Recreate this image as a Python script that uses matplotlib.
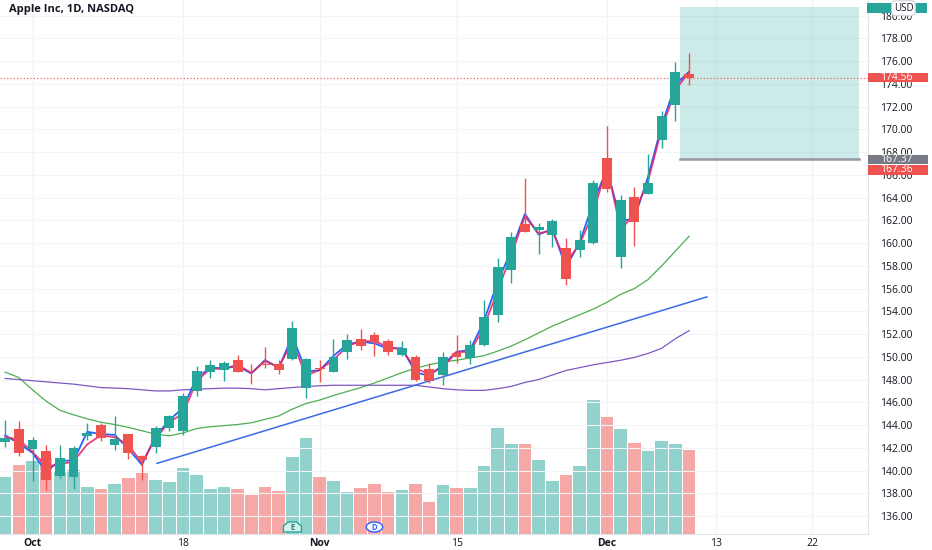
import numpy as np
import matplotlib.pyplot as plt
from matplotlib.patches import Rectangle, Polygon, Ellipse
from matplotlib.transforms import blended_transform_factory

plt.rcParams['font.family'] = ['Open Sans', 'DejaVu Sans']

# AAPL daily bars, 29 Sep 2021 .. 9 Dec 2021 (index = trading day)
opens = [142.47, 143.66, 141.90, 141.76, 139.49, 139.47, 143.06, 144.03, 142.27, 143.23,
         141.24, 142.11, 143.77, 143.45, 147.01, 148.70, 148.81, 149.69, 148.68, 149.33,
         149.36, 149.82, 147.22, 148.99, 148.66, 150.39, 151.58, 151.89, 151.41, 150.20,
         150.02, 148.96, 148.43, 150.37, 149.94, 151.00, 153.71, 157.65, 161.68, 161.12,
         160.75, 159.57, 159.37, 159.99, 167.48, 158.74, 164.02, 164.29, 169.08, 172.13,
         174.91]
highs = [144.45, 144.38, 142.92, 142.21, 142.24, 142.15, 144.22, 144.18, 144.81, 143.25,
         141.40, 143.88, 144.90, 146.84, 149.17, 149.75, 149.64, 150.18, 149.37, 150.84,
         149.73, 153.17, 149.94, 149.70, 151.57, 151.97, 152.43, 152.20, 151.57, 151.43,
         150.13, 149.43, 150.40, 151.88, 151.49, 155.00, 158.67, 161.02, 165.70, 161.80,
         162.14, 160.45, 161.19, 165.52, 170.30, 164.20, 164.96, 167.88, 171.58, 175.96,
         176.75]
lows = [142.03, 141.28, 139.11, 138.27, 139.36, 138.37, 142.72, 142.56, 141.81, 141.04,
        139.20, 141.51, 143.51, 143.16, 146.55, 148.12, 147.87, 148.64, 147.62, 149.01,
        148.49, 149.72, 146.41, 147.80, 148.65, 149.82, 150.64, 150.06, 150.16, 150.06,
        147.85, 147.68, 147.48, 149.43, 149.34, 150.99, 153.05, 156.53, 161.00, 159.06,
        159.64, 156.36, 158.79, 159.92, 164.53, 157.80, 159.72, 164.28, 168.34, 170.70,
        173.92]
closes = [142.83, 141.50, 142.65, 139.14, 141.11, 142.00, 143.29, 142.90, 142.81, 141.51,
          140.91, 143.76, 144.84, 146.55, 148.76, 149.26, 149.48, 148.69, 148.64, 149.32,
          148.85, 152.57, 149.80, 148.96, 150.02, 151.49, 150.96, 151.28, 150.44, 150.81,
          147.92, 147.87, 149.99, 150.00, 151.00, 153.49, 157.87, 160.55, 161.02, 161.41,
          161.94, 156.81, 160.24, 165.30, 164.77, 163.76, 161.84, 165.32, 171.18, 175.08,
          174.56]
volumes = [74.6, 89.1, 94.6, 98.3, 80.9, 83.2, 61.7, 58.8, 64.5, 73.0,
           78.8, 69.9, 67.9, 85.6, 76.4, 58.4, 61.4, 58.9, 50.7, 60.9,
           56.1, 100.1, 124.9, 74.6, 69.1, 54.5, 60.4, 65.4, 55.0, 56.8,
           65.2, 41.0, 63.8, 59.2, 59.3, 88.8, 137.8, 117.3, 117.5, 96.0,
           69.5, 76.9, 88.7, 174.0, 152.1, 136.7, 118.0, 107.5, 120.4, 116.9,
           108.9]  # millions

# pink and blue lines drawn through the bars
pink_line = [142.95, 142.71, 141.65, 140.35, 140.55, 140.80, 142.30, 143.10, 142.93, 142.26,
             140.69, 142.82, 144.26, 145.00, 147.87, 148.96, 148.95, 149.30, 148.58, 149.63,
             149.11, 151.32, 148.34, 148.86, 149.73, 150.92, 151.40, 151.36, 150.90, 150.63,
             148.98, 148.49, 149.08, 150.42, 150.44, 152.62, 155.83, 158.94, 162.35, 160.85,
             161.12, 158.30, 159.90, 162.68, 166.77, 161.13, 162.64, 165.44, 170.05, 173.47,
             175.04]
blue_line = [143.10, 142.39, 141.56, 139.87, 140.90, 140.84, 143.41, 143.21, 143.14, 141.93,
             140.50, 143.05, 144.42, 145.52, 148.16, 149.04, 149.00, 149.17, 148.54, 149.72,
             149.02, 151.82, 148.72, 148.82, 150.08, 151.09, 151.34, 151.18, 150.72, 150.77,
             148.63, 148.33, 149.29, 150.44, 150.61, 153.16, 156.53, 159.37, 162.57, 160.76,
             161.24, 157.87, 160.07, 163.58, 166.53, 161.92, 162.17, 165.83, 170.37, 173.91,
             175.08]
ma_green = [148.66, 148.18, 147.1, 146.1, 145.3, 144.9, 144.55, 144.25, 144.05, 143.8,
            143.5, 143.2, 143.05, 143.3, 143.7, 143.85, 143.95, 144.05, 144.2, 144.5,
            144.8, 145.4, 145.9, 146.2, 146.6, 146.95, 147.3, 147.7, 148.15, 148.6,
            149.0, 149.3, 149.55, 149.7, 149.9, 150.1, 150.5, 150.95, 151.5, 152.1,
            152.7, 153.2, 153.7, 154.2, 154.8, 155.5, 156.0, 156.8, 158.0, 159.3,
            160.6]
ma_purple = [148.1, 148.0, 147.9, 147.8, 147.7, 147.6, 147.45, 147.3, 147.25, 147.2,
             147.1, 147.0, 147.0, 147.1, 147.15, 147.2, 147.25, 147.25, 147.2, 147.1,
             147.2, 147.3, 147.4, 147.45, 147.5, 147.5, 147.5, 147.5, 147.5, 147.5,
             147.5, 147.35, 147.2, 147.1, 147.05, 147.05, 147.2, 147.4, 147.75, 148.0,
             148.4, 148.8, 149.05, 149.3, 149.5, 149.7, 149.95, 150.3, 150.75, 151.6,
             152.3]
trend_x = [11.1, 51.3]
trend_y = [140.63, 155.27]

tick_pos = [2, 13, 23, 33, 44, 52, 59]
tick_labels = ["Oct", "18", "Nov", "15", "Dec", "13", "22"]
months = ["Oct", "Nov", "Dec"]
price_ticks = np.arange(136, 181, 2)

UP = '#26a69a'
DOWN = '#ef5350'
TXT = '#131722'

opens = np.array(opens)
closes = np.array(closes)
x = np.arange(len(opens))
up = closes >= opens
colors = np.where(up, UP, DOWN)

fig = plt.figure(figsize=(9.32, 5.5), dpi=100)
rect = [0, 16 / 550, 868 / 932, 534 / 550]
ax_v = fig.add_axes(rect)
ax = fig.add_axes(rect, sharex=ax_v)
ax.patch.set_visible(False)

ax_v.set_xlim(-0.376, 63.08)
ax_v.set_ylim(0, 694)
ax.set_ylim(134.42, 181.38)

# grid
for t in tick_pos:
    ax_v.axvline(t, color='#f0f3fa', lw=1, zorder=0)
for p in price_ticks:
    ax.axhline(p, color='#f3f4f8', lw=0.8, zorder=0)

# volume
ax_v.bar(x, volumes, width=0.92, color=colors, alpha=0.5, linewidth=0)
ax_v.axis('off')

# long position box
ax.add_patch(Rectangle((49.33, 167.37), 62.42 - 49.33, 180.74 - 167.37,
                       facecolor=UP, alpha=0.23, lw=0, zorder=1))
ax.plot([49.33, 62.42], [167.37, 167.37], color='#9598a1', lw=1.8, zorder=1.2)

# last price line
ax.axhline(174.56, color=DOWN, lw=0.8, ls=(0, (1, 2)), zorder=1.5)

# moving averages and trend line
ax.plot(x, ma_green, color='#4caf50', lw=0.9, zorder=2)
ax.plot(x, ma_purple, color='#7e57c2', lw=0.9, zorder=2)
ax.plot(trend_x, trend_y, color='#3d6ae8', lw=1.1, zorder=2)
ax.plot(x, blue_line, color='#2962ff', lw=1.3, zorder=2.2)
ax.plot(x, pink_line, color='#e91e63', lw=1.3, alpha=0.85, zorder=2.3)

# candles
body_low = np.minimum(opens, closes)
body_h = np.maximum(np.abs(closes - opens), 0.06)
ax.vlines(x, lows, highs, colors=colors, lw=1, zorder=3)
ax.bar(x, body_h, bottom=body_low, width=0.72, color=colors, linewidth=0, zorder=4)

# axes styling
for s in ['left', 'top']:
    ax.spines[s].set_visible(False)
ax.spines['right'].set_color('#e0e3eb')
ax.spines['bottom'].set_color('#e0e3eb')
ax.yaxis.tick_right()
ax.set_yticks(price_ticks)
ax.set_yticklabels([f"{p:.2f}" for p in price_ticks])
ax.tick_params(axis='y', length=0, pad=8.5, labelsize=7.5, labelcolor=TXT)
ax.set_xticks(tick_pos)
ax.set_xticklabels(tick_labels)
ax.tick_params(axis='x', length=0, pad=3, labelsize=7.5, labelcolor=TXT)
for lbl in ax.get_xticklabels():
    if lbl.get_text() in months:
        lbl.set_fontweight('bold')

# price labels on the scale
tr = blended_transform_factory(ax.transAxes, ax.transData)


def scale_label(price, text, color, shift=0.0):
    ax.add_patch(Rectangle((1.0, price + shift - 0.42), 0.069, 0.84, transform=tr,
                           facecolor=color, lw=0, clip_on=False, zorder=10))
    ax.text(880 / 868, price + shift, text, transform=tr, color='white', fontsize=7.5,
            va='center', ha='left', clip_on=False, zorder=11)


scale_label(closes[-1], f"{closes[-1]:.2f}", DOWN)
scale_label(167.37, "167.37", '#787b86')
scale_label(167.36, "167.36", DOWN, shift=-0.92)

# top-right currency pill
fig.add_artist(Rectangle((867 / 932, 1 - 12.7 / 550), 60 / 932, 9.4 / 550,
                         transform=fig.transFigure, facecolor=UP, lw=0))
fig.text(903.5 / 932, 1 - 8.2 / 550, "USD", fontsize=7, color=TXT, ha='center', va='center',
         bbox=dict(boxstyle='round,pad=0.2,rounding_size=0.4', fc='white', ec='#d1d4dc', lw=0.8))

# earnings / dividend markers
te = blended_transform_factory(ax.transData, ax.transAxes)
y0, y1 = 2 / 534, 12 / 534
ex = 21
ax.add_patch(Polygon([(ex - 0.66, y0), (ex + 0.66, y0), (ex + 0.66, y0 + 0.6 * (y1 - y0)),
                      (ex + 0.3, y1), (ex - 0.3, y1), (ex - 0.66, y0 + 0.6 * (y1 - y0))],
                     closed=True, transform=te, facecolor='#d8f0ed', edgecolor=UP, lw=1,
                     zorder=6))
ax.text(ex, (y0 + y1) / 2, "E", transform=te, fontsize=5.5, color='#1b7f75', ha='center',
        va='center', fontweight='bold', zorder=7)
dx = 27
ax.add_patch(Ellipse((dx, (y0 + y1) / 2), 1.2, y1 - y0, transform=te, facecolor='white',
                     edgecolor='#2962ff', lw=1, zorder=6))
ax.text(dx, (y0 + y1) / 2, "D", transform=te, fontsize=5.5, color='#2962ff', ha='center',
        va='center', fontweight='bold', zorder=7)

fig.text(9 / 932, 1 - 9.5 / 550, "Apple Inc, 1D, NASDAQ", fontsize=8, fontweight='bold',
         color=TXT, ha='left', va='center')

fig.savefig("out.png", dpi=100)
